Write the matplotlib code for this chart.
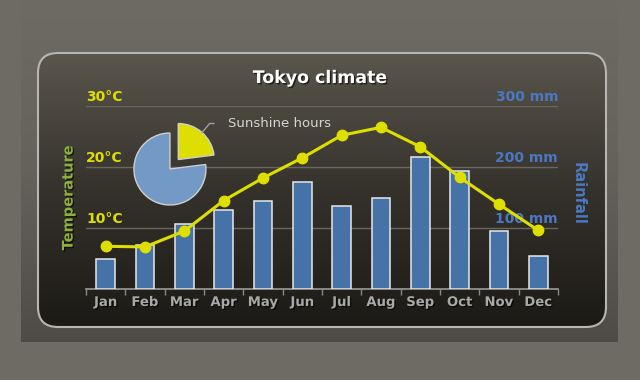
import numpy as np
import matplotlib
matplotlib.use('Agg')
import matplotlib.pyplot as plt
import matplotlib.patheffects as pe
from matplotlib.patches import FancyBboxPatch
from matplotlib.colors import LinearSegmentedColormap
from matplotlib.transforms import offset_copy

# Tokyo climate: monthly rainfall (bars), temperature (line), sunshine pie
months = ['Jan', 'Feb', 'Mar', 'Apr', 'May', 'Jun',
          'Jul', 'Aug', 'Sep', 'Oct', 'Nov', 'Dec']
rainfall = [49.9, 71.5, 106.4, 129.2, 144.0, 176.0,
            135.6, 148.5, 216.4, 194.1, 95.6, 54.4]
temperature = [7.0, 6.9, 9.5, 14.5, 18.2, 21.5,
               25.2, 26.5, 23.3, 18.3, 13.9, 9.6]
pie_labels = ['Sunshine hours', 'Other hours']
pie_values = [23, 77]
temp_ticks = [10, 20, 30]
rain_ticks = [100, 200, 300]

YELLOW = '#dede00'
BLUE = '#4572a7'
BLUE_TEXT = '#4a78c2'
GREEN = '#8cb03c'
shadow = [pe.withSimplePatchShadow(offset=(1, -1), shadow_rgbFace='black', alpha=0.6)]

fig = plt.figure(figsize=(6.4, 3.8), dpi=100)
fig.patch.set_facecolor('#6e6b65')

# background in pixel coordinates
bg = fig.add_axes([0, 0, 1, 1])
bg.axis('off')
grad = np.linspace(0, 1, 200).reshape(-1, 1)
frame_cmap = LinearSegmentedColormap.from_list('frame', ['#6e6b65', '#65625c', '#4f4b46'])
bg.imshow(grad, extent=(21, 618, 342, 0), aspect='auto', cmap=frame_cmap)

panel = FancyBboxPatch((38, 53), 568, 274, boxstyle='round,pad=0,rounding_size=20',
                       facecolor='none', edgecolor='none')
bg.add_patch(panel)
panel_cmap = LinearSegmentedColormap.from_list('panel', ['#5a564d', '#35322c', '#1c1a16'])
img = bg.imshow(grad, extent=(38, 606, 327, 53), aspect='auto', cmap=panel_cmap)
img.set_clip_path(panel)
bg.add_patch(FancyBboxPatch((38, 53), 568, 274, boxstyle='round,pad=0,rounding_size=20',
                            facecolor='none', edgecolor='#b8b6b0', linewidth=1.5))
bg.set_xlim(0, 640)
bg.set_ylim(380, 0)

fig.text(0.5, 1 - 78 / 380, 'Tokyo climate', ha='center', va='center', color='white',
         fontsize=12.5, fontweight='bold', path_effects=shadow)

# main chart
ax = fig.add_axes([86 / 640, 1 - 289 / 380, 472 / 640, 183 / 380])
ax.patch.set_alpha(0)
x = np.arange(len(months))
ax.bar(x, rainfall, width=0.48, color=BLUE, edgecolor='#e8e8e8', linewidth=1.1, zorder=3)
ax.set_xlim(-0.5, len(months) - 0.5)
ax.set_ylim(0, 300)
ax.set_yticks(rain_ticks)
ax.yaxis.grid(True, color='#6a665f', linewidth=1)
ax.set_axisbelow(True)
ax.tick_params(axis='y', length=0, labelleft=False, labelright=False)
ax.set_xticks(x, months)
ax.set_xticks(np.arange(-0.5, len(months), 1), minor=True)
ax.tick_params(axis='x', which='major', length=0, pad=5, labelcolor='#a9a9a6', labelsize=9.5)
ax.tick_params(axis='x', which='minor', length=4, width=1, color='#8a8a86')
for lab in ax.get_xticklabels():
    lab.set_fontweight('bold')
    lab.set_path_effects(shadow)
for side in ['top', 'left', 'right']:
    ax.spines[side].set_visible(False)
ax.spines['bottom'].set_color('#9a9a96')
ax.spines['bottom'].set_linewidth(1.2)

ytrans = offset_copy(ax.get_yaxis_transform(), fig=fig, y=2, units='dots')
for v in rain_ticks:
    ax.text(1, v, f'{v} mm', transform=ytrans, ha='right', va='bottom', color=BLUE_TEXT,
            fontsize=10, fontweight='bold')

ax2 = ax.twinx()
ax2.set_ylim(0, 30)
ax2.plot(x, temperature, color=YELLOW, linewidth=2.2, marker='o', markersize=7.5,
         markerfacecolor=YELLOW, markeredgecolor=YELLOW, zorder=4)
ax2.set_yticks([])
for side in ['top', 'left', 'right', 'bottom']:
    ax2.spines[side].set_visible(False)
ytrans2 = offset_copy(ax2.get_yaxis_transform(), fig=fig, y=2, units='dots')
for v in temp_ticks:
    ax2.text(0, v, f'{v}°C', transform=ytrans2, ha='left', va='bottom', color=YELLOW,
             fontsize=10, fontweight='bold')

ax.text(-0.038, 0.5, 'Temperature', transform=ax.transAxes, rotation=90, ha='center',
        va='center', color=GREEN, fontsize=10.5, fontweight='bold', path_effects=shadow)
ax.text(1.042, 0.52, 'Rainfall', transform=ax.transAxes, rotation=270, ha='center',
        va='center', color=BLUE_TEXT, fontsize=10.5, fontweight='bold')

# sunshine pie
cx, cy, size = 171.6, 167.1, 100
axp = fig.add_axes([(cx - size / 2) / 640, 1 - (cy + size / 2) / 380, size / 640, size / 380])
wedges, _ = axp.pie(pie_values, colors=[YELLOW, '#7399c6'], startangle=90, counterclock=False,
                    explode=[0.28, 0.07], radius=1,
                    wedgeprops=dict(edgecolor='#cfcfcf', linewidth=1))
lim = size / 2 / 36
axp.set_xlim(-lim, lim)
axp.set_ylim(-lim, lim)
axp.axis('off')

w = wedges[0]
mid = np.deg2rad((w.theta1 + w.theta2) / 2)
edge = (w.center[0] + w.r * np.cos(mid), w.center[1] + w.r * np.sin(mid))
axp.annotate(pie_labels[0], xy=edge, xytext=(18.7, 6.5), textcoords='offset points',
             ha='left', va='center', color='#d4d4d0', fontsize=9.5,
             annotation_clip=False,
             arrowprops=dict(arrowstyle='-', color='#a0a09c', linewidth=1, relpos=(0, 0.5),
                             shrinkA=8, shrinkB=0,
                             connectionstyle='angle,angleA=0,angleB=50,rad=0'))

fig.savefig('out.png', dpi=100)
